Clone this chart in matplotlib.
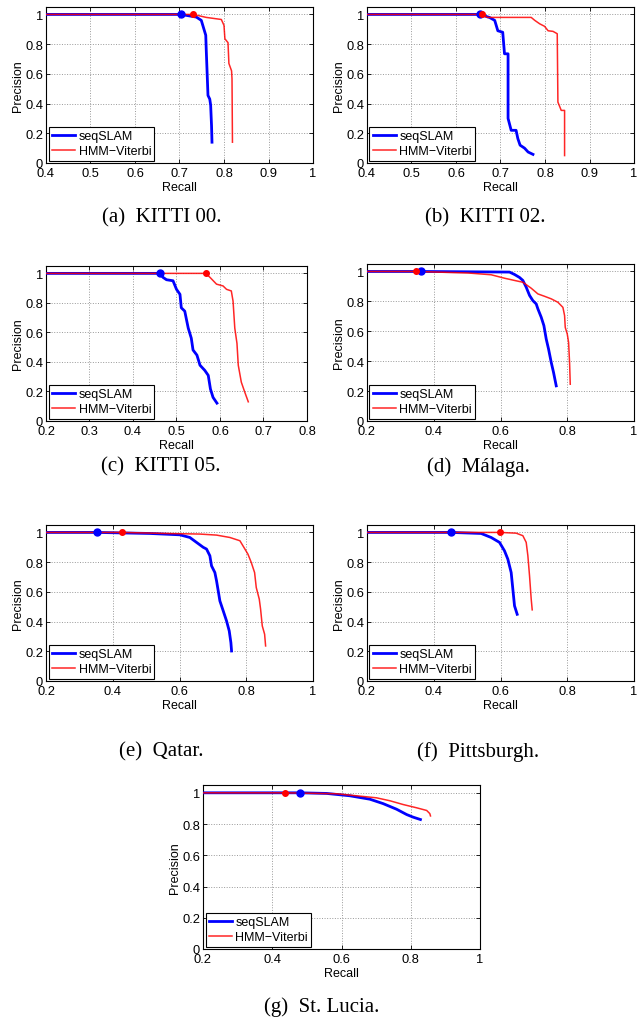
import matplotlib
matplotlib.use('Agg')
import matplotlib.pyplot as plt
import numpy as np

# precision / recall curves per dataset (seqSLAM vs HMM-Viterbi)
kitti00_seq_recall = [0.0, 0.703, 0.738, 0.749, 0.755, 0.759, 0.760, 0.764, 0.768, 0.770, 0.772, 0.773]
kitti00_seq_prec   = [1.0, 1.0, 0.982, 0.96, 0.90, 0.86, 0.77, 0.455, 0.43, 0.39, 0.25, 0.14]
kitti00_hmm_recall = [0.0, 0.731, 0.760, 0.794, 0.800, 0.802, 0.809, 0.811, 0.817, 0.818, 0.819]
kitti00_hmm_prec   = [1.0, 1.0, 0.98, 0.966, 0.926, 0.836, 0.81, 0.67, 0.62, 0.567, 0.14]

kitti02_seq_recall = [0.0, 0.653, 0.675, 0.687, 0.694, 0.705, 0.709, 0.717, 0.717, 0.724, 0.735, 0.739, 0.744, 0.754, 0.762, 0.773]
kitti02_seq_prec   = [1.0, 1.0, 0.98, 0.96, 0.89, 0.88, 0.735, 0.735, 0.30, 0.22, 0.22, 0.164, 0.12, 0.10, 0.074, 0.058]
kitti02_hmm_recall = [0.0, 0.659, 0.670, 0.769, 0.777, 0.788, 0.799, 0.807, 0.818, 0.8275, 0.829, 0.8365, 0.844, 0.844]
kitti02_hmm_prec   = [1.0, 1.0, 0.98, 0.98, 0.96, 0.937, 0.92, 0.89, 0.886, 0.87, 0.41, 0.354, 0.354, 0.05]

kitti05_seq_recall = [0.0, 0.462, 0.469, 0.477, 0.492, 0.500, 0.508, 0.511, 0.519, 0.523, 0.527, 0.534, 0.538, 0.547, 0.554, 0.565, 0.573, 0.578, 0.584, 0.593]
kitti05_seq_prec   = [1.0, 1.0, 0.973, 0.957, 0.95, 0.892, 0.858, 0.767, 0.744, 0.686, 0.629, 0.561, 0.481, 0.446, 0.378, 0.343, 0.309, 0.217, 0.16, 0.121]
kitti05_hmm_recall = [0.0, 0.567, 0.577, 0.592, 0.607, 0.615, 0.626, 0.630, 0.634, 0.639, 0.642, 0.649, 0.657, 0.665]
kitti05_hmm_prec   = [1.0, 1.0, 0.973, 0.927, 0.915, 0.892, 0.881, 0.812, 0.629, 0.526, 0.378, 0.263, 0.195, 0.13]

malaga_seq_recall = [0.0, 0.362, 0.627, 0.642, 0.657, 0.667, 0.677, 0.687, 0.697, 0.707, 0.712, 0.722, 0.730, 0.737, 0.744, 0.752, 0.759, 0.764, 0.767]
malaga_seq_prec   = [1.0, 1.0, 0.996, 0.98, 0.96, 0.94, 0.895, 0.84, 0.805, 0.783, 0.75, 0.694, 0.638, 0.548, 0.481, 0.392, 0.324, 0.268, 0.235]
malaga_hmm_recall = [0.0, 0.347, 0.502, 0.572, 0.612, 0.642, 0.667, 0.692, 0.712, 0.732, 0.752, 0.772, 0.787, 0.792, 0.794, 0.800, 0.804, 0.807, 0.809]
malaga_hmm_prec   = [1.0, 1.0, 0.99, 0.978, 0.955, 0.94, 0.928, 0.888, 0.85, 0.834, 0.817, 0.794, 0.76, 0.705, 0.626, 0.582, 0.526, 0.39, 0.246]

qatar_seq_recall = [0.0, 0.352, 0.511, 0.601, 0.631, 0.651, 0.671, 0.681, 0.691, 0.696, 0.706, 0.711, 0.716, 0.721, 0.731, 0.741, 0.749, 0.754, 0.756]
qatar_seq_prec   = [1.0, 1.0, 0.993, 0.984, 0.966, 0.933, 0.90, 0.888, 0.843, 0.775, 0.73, 0.674, 0.607, 0.539, 0.472, 0.404, 0.337, 0.258, 0.202]
qatar_hmm_recall = [0.0, 0.428, 0.561, 0.661, 0.711, 0.751, 0.781, 0.796, 0.805, 0.815, 0.825, 0.830, 0.839, 0.843, 0.848, 0.855, 0.858]
qatar_hmm_prec   = [1.0, 1.0, 0.993, 0.989, 0.982, 0.966, 0.944, 0.888, 0.854, 0.798, 0.73, 0.629, 0.551, 0.483, 0.371, 0.315, 0.236]

pitt_seq_recall = [0.0, 0.452, 0.542, 0.572, 0.597, 0.612, 0.622, 0.632, 0.637, 0.642, 0.650]
pitt_seq_prec   = [1.0, 1.0, 0.993, 0.966, 0.933, 0.876, 0.82, 0.73, 0.618, 0.506, 0.449]
pitt_hmm_recall = [0.0, 0.599, 0.647, 0.667, 0.677, 0.682, 0.687, 0.692, 0.695]
pitt_hmm_prec   = [1.0, 1.0, 0.995, 0.978, 0.933, 0.843, 0.708, 0.551, 0.479]

lucia_seq_recall = [0.0, 0.4795, 0.557, 0.624, 0.682, 0.720, 0.759, 0.788, 0.807, 0.828]
lucia_seq_prec   = [1.0, 1.0, 0.996, 0.981, 0.959, 0.931, 0.895, 0.861, 0.844, 0.829]
lucia_hmm_recall = [0.0, 0.438, 0.586, 0.643, 0.701, 0.740, 0.778, 0.817, 0.846, 0.855, 0.857]
lucia_hmm_prec   = [1.0, 1.0, 0.994, 0.981, 0.968, 0.949, 0.925, 0.904, 0.887, 0.867, 0.852]

captions = ['(a)  KITTI 00.', '(b)  KITTI 02.', '(c)  KITTI 05.', '(d)  M\u00e1laga.',
            '(e)  Qatar.', '(f)  Pittsburgh.', '(g)  St. Lucia.']

W, H = 638, 1020
SANS = 'Liberation Sans'
SERIF = 'Liberation Serif'


def tick_fmt(v):
    s = f'{v:.1f}'
    if s.endswith('.0'):
        s = s[:-2]
    return s


def pr_panel(fig, box, seq, hmm, xlim, xstep, caption, cap_xy):
    x0, y0, x1, y1 = box
    ax = fig.add_axes([x0 / W, 1 - y1 / H, (x1 - x0) / W, (y1 - y0) / H])
    seq_r, seq_p = np.array(seq[0]), np.array(seq[1])
    hmm_r, hmm_p = np.array(hmm[0]), np.array(hmm[1])
    ax.plot(seq_r, seq_p, color='#0000ff', lw=2.0, label='seqSLAM', zorder=3)
    ax.plot(hmm_r, hmm_p, color='#ff0000', lw=1.1, alpha=0.85, label='HMM\u2212Viterbi', zorder=4)
    # marker at the last point with full precision
    i = np.where(seq_p >= 1.0)[0][-1]
    ax.plot(seq_r[i], seq_p[i], 'o', color='#0000ff', ms=5, zorder=5)
    j = np.where(hmm_p >= 1.0)[0][-1]
    ax.plot(hmm_r[j], hmm_p[j], 'o', color='#ff0000', ms=4, zorder=6)

    ax.set_xlim(*xlim)
    ax.set_ylim(0, 1.05)
    xt = np.round(np.arange(xlim[0], xlim[1] + 1e-9, xstep), 2)
    yt = np.round(np.arange(0, 1.0001, 0.2), 2)
    ax.set_xticks(xt)
    ax.set_xticklabels([tick_fmt(v) for v in xt], fontfamily=SANS, fontsize=9.3)
    ax.set_yticks(yt)
    ax.set_yticklabels([tick_fmt(v) for v in yt], fontfamily=SANS, fontsize=9.3)
    ax.tick_params(direction='in', length=3, width=0.6, top=True, right=True)
    ax.tick_params(axis='x', pad=3)
    ax.tick_params(axis='y', pad=2)
    ax.grid(True, linestyle=':', color='#999999', lw=0.7)
    for sp in ax.spines.values():
        sp.set_linewidth(0.8)
    ax.set_xlabel('Recall', fontfamily=SANS, fontsize=9, labelpad=1)
    ax.set_ylabel('Precision', fontfamily=SANS, fontsize=9, labelpad=1)
    leg = ax.legend(loc='lower left', prop={'family': SANS, 'size': 9}, fancybox=False,
                    framealpha=1, edgecolor='black', borderaxespad=0.2, borderpad=0.25,
                    handlelength=1.9, handletextpad=0.25, labelspacing=0.25)
    leg.get_frame().set_linewidth(0.8)
    fig.text(cap_xy[0] / W, 1 - cap_xy[1] / H, caption, ha='center', va='center',
             fontfamily=SERIF, fontsize=15)
    return ax


fig = plt.figure(figsize=(W / 100, H / 100), dpi=100)

pr_panel(fig, (46, 8, 313, 164), (kitti00_seq_recall, kitti00_seq_prec),
         (kitti00_hmm_recall, kitti00_hmm_prec), (0.4, 1.0), 0.1, captions[0], (162, 218))
pr_panel(fig, (367, 8, 634, 164), (kitti02_seq_recall, kitti02_seq_prec),
         (kitti02_hmm_recall, kitti02_hmm_prec), (0.4, 1.0), 0.1, captions[1], (485, 218))
pr_panel(fig, (46, 267, 307, 422), (kitti05_seq_recall, kitti05_seq_prec),
         (kitti05_hmm_recall, kitti05_hmm_prec), (0.2, 0.8), 0.1, captions[2], (161, 467))
pr_panel(fig, (367, 265, 634, 422), (malaga_seq_recall, malaga_seq_prec),
         (malaga_hmm_recall, malaga_hmm_prec), (0.2, 1.0), 0.2, captions[3], (478, 467))
pr_panel(fig, (46, 526, 313, 682), (qatar_seq_recall, qatar_seq_prec),
         (qatar_hmm_recall, qatar_hmm_prec), (0.2, 1.0), 0.2, captions[4], (161, 752))
pr_panel(fig, (367, 526, 634, 682), (pitt_seq_recall, pitt_seq_prec),
         (pitt_hmm_recall, pitt_hmm_prec), (0.2, 1.0), 0.2, captions[5], (478, 752))
pr_panel(fig, (203, 786, 480, 950), (lucia_seq_recall, lucia_seq_prec),
         (lucia_hmm_recall, lucia_hmm_prec), (0.2, 1.0), 0.2, captions[6], (322, 1007))

fig.savefig('out.png', dpi=100)
